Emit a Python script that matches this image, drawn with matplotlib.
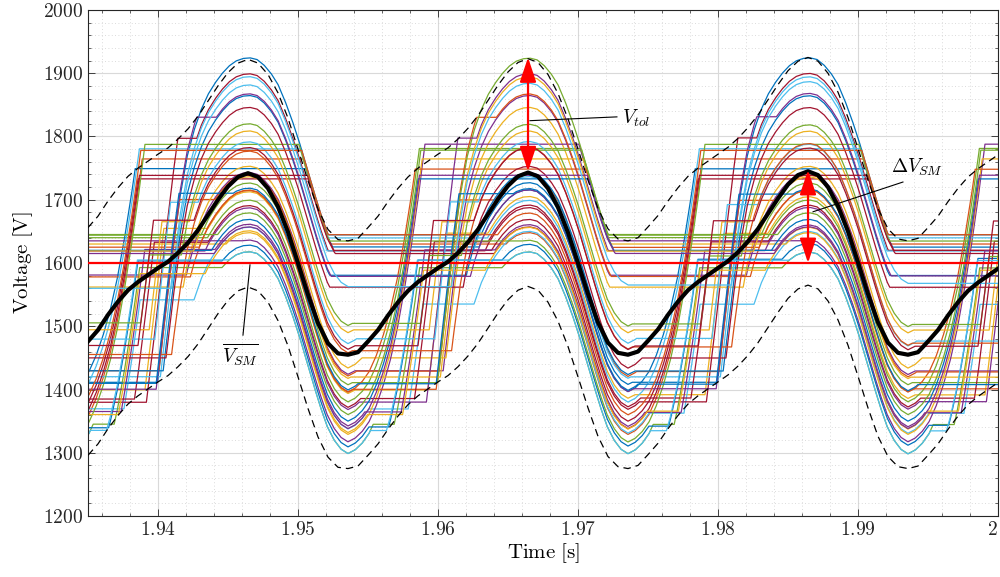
import numpy as np
import matplotlib
matplotlib.use("Agg")
import matplotlib.pyplot as plt
from matplotlib.ticker import MultipleLocator

plt.rcParams['mathtext.fontset'] = 'cm'
plt.rcParams['font.family'] = 'serif'

# ---- average capacitor voltage and tolerance band, read every 10 px (1.935 s .. 2 s)
t_avg = np.linspace(1.935, 2.0, 92)
v_avg = [1476, 1494, 1518, 1539, 1557, 1570, 1581, 1592, 1602, 1616, 1632, 1652, 1676, 1700,
         1721, 1736, 1742, 1736, 1718, 1689, 1649, 1600, 1550, 1505, 1473, 1457,
         1455, 1459, 1476, 1494, 1517, 1538, 1556, 1570, 1581, 1592, 1602, 1616, 1633, 1653,
         1677, 1701, 1722, 1737, 1743, 1737, 1718, 1688, 1648, 1600, 1551, 1506, 1474, 1458,
         1455, 1460, 1477, 1495, 1518, 1539, 1557, 1570, 1581, 1592, 1603, 1617, 1634, 1654,
         1678, 1702, 1724, 1739, 1745, 1739, 1720, 1690, 1650, 1601, 1551, 1506, 1474, 1458,
         1455, 1459, 1476, 1494, 1517, 1538, 1556, 1569, 1580, 1591]
v_hi = [1656, 1674, 1698, 1719, 1737, 1750, 1761, 1772, 1782, 1796, 1812, 1832, 1856, 1880,
        1901, 1916, 1922, 1916, 1898, 1869, 1829, 1780, 1730, 1685, 1653, 1637,
        1635, 1639, 1656, 1674, 1697, 1718, 1736, 1750, 1761, 1772, 1782, 1796, 1813, 1833,
        1857, 1881, 1902, 1917, 1923, 1917, 1898, 1868, 1828, 1780, 1731, 1686, 1654, 1638,
        1635, 1640, 1657, 1675, 1698, 1719, 1737, 1750, 1761, 1772, 1783, 1797, 1814, 1834,
        1858, 1882, 1904, 1919, 1925, 1919, 1900, 1870, 1830, 1781, 1731, 1686, 1654, 1638,
        1635, 1639, 1656, 1674, 1697, 1718, 1736, 1749, 1760, 1771]
v_lo = [1296, 1314, 1338, 1359, 1377, 1390, 1401, 1412, 1422, 1436, 1452, 1472, 1496, 1520,
        1541, 1556, 1562, 1556, 1538, 1509, 1469, 1420, 1370, 1325, 1293, 1277,
        1275, 1279, 1296, 1314, 1337, 1358, 1376, 1390, 1401, 1412, 1422, 1436, 1453, 1473,
        1497, 1521, 1542, 1557, 1563, 1557, 1538, 1508, 1468, 1420, 1371, 1326, 1294, 1278,
        1275, 1280, 1297, 1315, 1338, 1359, 1377, 1390, 1401, 1412, 1423, 1437, 1454, 1474,
        1498, 1522, 1544, 1559, 1565, 1559, 1540, 1510, 1470, 1421, 1371, 1326, 1294, 1278,
        1275, 1279, 1296, 1314, 1337, 1358, 1376, 1389, 1400, 1411]
v_ref = 1600

# ---- sub-module traces
t_trough0 = 1.93357   # first ripple trough (just left of the axis)
# voltage gained by an inserted sub-module in each 0.5 ms of a ripple period (from trough)
dv_inserted = [5.6, 10.4, 15.5, 24.5, 32, 39, 49, 61, 69, 77, 87.5, 91.5, 95, 98, 93, 83, 63,
               42, 32.5, 24.5, 18, 15, 12, 8, 4, 1, -2.6, -8.8, -13.1, -17.5, -26, -30, -33.4,
               -37.8, -37.8, -36.2, -32.2, -22, -14.6, -7]
# start voltage and insertion intervals (ms after t_trough0)
sm_v0 = [1408, 1329, 1394, 1581, 1640, 1338, 1368, 1397, 1422, 1562, 1635, 1299, 1418, 1350,
         1308, 1578, 1630, 1343, 1644, 1380, 1371, 1424, 1625, 1490, 1619, 1317, 1472, 1434,
         1620, 1452, 1619, 1396, 1645, 1299, 1338, 1400, 1360, 1332, 1615, 1502, 1560, 1464]
sm_on = [
    [(0, 0.3), (6.4, 18.6), (29.5, 40.3), (46.4, 58.6)],
    [(0, 5.3), (16.8, 18.8), (31.29, 45.3), (56.8, 58.8)],
    [(0, 0.5), (5.5, 6.85), (10.0, 20.5), (25.7, 27.0), (30.0, 40.5), (45.5, 46.85), (50.0, 60.5), (65.5, 66.5)],
    [(8.46, 20.5), (26.8, 38.7), (48.46, 60.5)],
    [(9.97, 25.1), (36.6, 38.6), (49.97, 65.1)],
    [(0, 1.5), (4.0, 5.15), (9.0, 21.5), (24.3, 25.35), (29.0, 41.5), (44.0, 45.15), (49.0, 61.5), (64.0, 65.15)],
    [(0, 0.8), (5.6, 7.85), (9.2, 18.6), (29.79, 40.8), (45.6, 47.85), (49.2, 58.6)],
    [(0, 4.8), (17.0, 18.9), (29.38, 44.8), (57.0, 58.9)],
    [(0, 0.6), (6.5, 7.98), (10.5, 20.6), (26.5, 27.98), (30.5, 40.6), (46.5, 47.98), (50.5, 60.6)],
    [(8.23, 21.0), (27.0, 38.7), (48.23, 61.0)],
    [(12.46, 25.5), (36.5, 38.7), (52.46, 65.5)],
    [(0, 1.8), (3.3, 5.12), (11.0, 21.8), (23.3, 25.12), (31.0, 41.8), (43.3, 45.12), (51.0, 61.8), (63.3, 65.12)],
    [(0, 0.2), (6.6, 18.5), (28.97, 40.2), (46.6, 58.5)],
    [(0, 5.0), (17.2, 19.0), (30.25, 45.0), (57.2, 59.0)],
    [(0, 1.5), (2.9, 5.0), (11.0, 21.5), (22.9, 25.0), (31.0, 41.5), (42.9, 45.0), (51.0, 61.5), (62.9, 65.0)],
    [(8.74, 20.4), (26.3, 29.2), (30.6, 38.8), (48.74, 60.4)],
    [(11.29, 25.3), (36.8, 38.8), (51.29, 65.3)],
    [(0, 1.2), (3.8, 5.49), (10.5, 21.2), (23.8, 25.49), (30.5, 41.2), (43.8, 45.49), (50.5, 61.2), (63.8, 65.49)],
    [(9.5, 20.3), (26.4, 38.6), (49.5, 60.3)],
    [(0, 5.1), (16.6, 18.6), (29.97, 45.1), (56.6, 58.6)],
    [(0, 0.9), (4.75, 6.16), (10.0, 20.9), (24.75, 26.16), (30.0, 40.9), (44.5, 45.95), (50.0, 60.9), (64.75, 66.16)],
    [(0, 0.5), (6.8, 18.7), (28.46, 40.5), (46.8, 58.7)],
    [(9.38, 24.8), (37.0, 38.9), (49.38, 64.8)],
    [(0, 0.4), (5.8, 6.7), (8.66, 20.4), (25.8, 26.7), (28.66, 40.4), (45.8, 46.7), (48.66, 60.4), (65.8, 66.5)],
    [(9.79, 20.8), (25.6, 27.85), (29.2, 38.6), (49.79, 60.8), (65.6, 66.5)],
    [(0, 5.5), (16.5, 18.7), (32.46, 45.5), (56.5, 58.7)],
    [(0, 0.6), (6.2, 7.33), (9.3, 20.6), (26.2, 27.33), (29.3, 40.6), (46.0, 47.1), (49.3, 60.6)],
    [(0, 1.0), (7.0, 18.7), (28.23, 41.0), (47.0, 58.7)],
    [(10.25, 25.0), (37.2, 39.0), (50.25, 65.0)],
    [(0, 0.3), (7.4, 20.3), (27.4, 40.3), (47.4, 60.3)],
    [(8.97, 20.2), (26.6, 38.5), (48.97, 60.2)],
    [(0, 0.4), (6.3, 9.2), (10.6, 18.8), (28.74, 40.4), (46.3, 49.2), (50.6, 58.8)],
    [(10.69, 25.2), (36.7, 38.6), (50.69, 65.2)],
    [(0, 1.6), (2.75, 4.96), (11.5, 21.6), (22.75, 24.96), (31.5, 41.6), (42.75, 44.96), (51.5, 61.6), (62.75, 64.96)],
    [(0, 5.1), (17.1, 19.1), (30.44, 45.1), (57.1, 59.1)],
    [(0, 0.7), (6.3, 7.93), (11.8, 20.7), (26.3, 27.93), (31.8, 40.7), (46.3, 47.93), (51.8, 60.7)],
    [(0, 5.2), (16.7, 18.6), (30.69, 45.2), (56.7, 58.6)],
    [(0, 1.4), (3.6, 5.16), (9.8, 21.4), (23.9, 25.4), (29.8, 41.4), (43.6, 45.16), (49.8, 61.4), (63.6, 65.16)],
    [(10.44, 25.1), (37.1, 39.1), (50.44, 65.1)],
    [(0, 0.3), (5.2, 5.8), (8.1, 20.3), (25.2, 25.8), (28.1, 40.3), (45.2, 45.8), (48.1, 60.3), (65.2, 65.8)],
    [(7.4, 20.0), (27.4, 40.0), (47.4, 60.0)],
    [(0, 0.5), (5.0, 6.1), (9.0, 20.5), (25.0, 26.1), (29.0, 40.5), (45.0, 46.1), (49.0, 60.5), (65.0, 66.1)],
]

# annotations
t_arrow_tol, v_arrow_tol = 1.96643, (1745, 1925)
t_arrow_dv, v_arrow_dv = 1.98643, (1600, 1747)

colors = ['#0072BD', '#D95319', '#EDB120', '#7E2F8E', '#77AC30', '#4DBEEE', '#A2142F']

fig = plt.figure(figsize=(10, 5.77), dpi=100)
ax = fig.add_axes([0.088, 0.1057, 0.910, 0.877])

sub = 50
dt_ms = 0.5 / sub
n = int(round(66.5 / dt_ms))
ms = np.arange(n + 1) * dt_ms
inc = np.resize(np.repeat(np.array(dv_inserted) / sub, sub), n)
tt = t_trough0 + ms / 1000.0
for i, (v0, iv) in enumerate(zip(sm_v0, sm_on)):
    on = np.zeros(n, bool)
    for a, b in iv:
        on |= (ms[:-1] >= a - 1e-9) & (ms[:-1] < b - 1e-9)
    v = v0 + np.concatenate([[0.0], np.cumsum(inc * on)])
    ax.plot(tt, v, color=colors[i % 7], lw=0.9, zorder=2)

ax.axhline(v_ref, color='red', lw=1.6, zorder=3)
ax.plot(t_avg, v_hi, 'k--', lw=0.9, dashes=(6, 4), zorder=3)
ax.plot(t_avg, v_lo, 'k--', lw=0.9, dashes=(6, 4), zorder=3)
ax.plot(t_avg, v_avg, 'k-', lw=3, zorder=4)

aprops = dict(arrowstyle='<|-|>,head_length=0.75,head_width=0.25', color='red', lw=1.6,
              mutation_scale=20, shrinkA=0, shrinkB=0)
ax.annotate('', xy=(t_arrow_tol, v_arrow_tol[1]), xytext=(t_arrow_tol, v_arrow_tol[0]),
            arrowprops=aprops, zorder=6)
ax.annotate('', xy=(t_arrow_dv, v_arrow_dv[1]), xytext=(t_arrow_dv, v_arrow_dv[0]),
            arrowprops=aprops, zorder=6)

ax.plot([1.96657, 1.97278], [1825, 1831], 'k-', lw=0.8, zorder=6)
ax.text(1.97414, 1829, r'$V_{tol}$', fontsize=14, ha='center', va='center', zorder=6)
ax.plot([1.98679, 1.99321], [1681, 1728], 'k-', lw=0.8, zorder=6)
ax.text(1.99421, 1752, r'$\Delta V_{SM}$', fontsize=14, ha='center', va='center', zorder=6)
ax.plot([1.94657, 1.94607], [1597, 1486], 'k-', lw=0.8, zorder=6)
ax.text(1.94586, 1455, r'$\overline{V_{SM}}$', fontsize=14, ha='center', va='center', zorder=6)

ax.set_xlim(1.935, 2.0)
ax.set_ylim(1200, 2000)
xt = [1.94, 1.95, 1.96, 1.97, 1.98, 1.99, 2.0]
ax.set_xticks(xt)
xlabels = ax.set_xticklabels([r'$1.94$', r'$1.95$', r'$1.96$', r'$1.97$', r'$1.98$', r'$1.99$', r'$2$'])
xlabels[-1].set_horizontalalignment('right')
yt = list(range(1200, 2001, 100))
ax.set_yticks(yt)
ax.set_yticklabels([r'$%d$' % y for y in yt])
ax.xaxis.set_minor_locator(MultipleLocator(0.002))
ax.yaxis.set_minor_locator(MultipleLocator(20))
ax.tick_params(which='both', direction='in', top=True, right=True, colors='#262626',
               labelsize=14)
ax.tick_params(which='major', length=5, width=0.6)
ax.tick_params(which='minor', length=2.5, width=0.5)
ax.grid(which='major', color='#d9d9d9', lw=0.8, zorder=0)
ax.grid(which='minor', color='#cfcfcf', lw=0.6, ls=(0, (1, 3)), zorder=0)
ax.set_axisbelow(True)
for s in ax.spines.values():
    s.set_color('#262626')
    s.set_linewidth(0.8)
ax.set_xlabel(r'$\mathrm{Time\ [s]}$', fontsize=15, labelpad=2)
ax.set_ylabel(r'$\mathrm{Voltage\ [V]}$', fontsize=15, labelpad=6)

fig.savefig('out.png', dpi=100)
